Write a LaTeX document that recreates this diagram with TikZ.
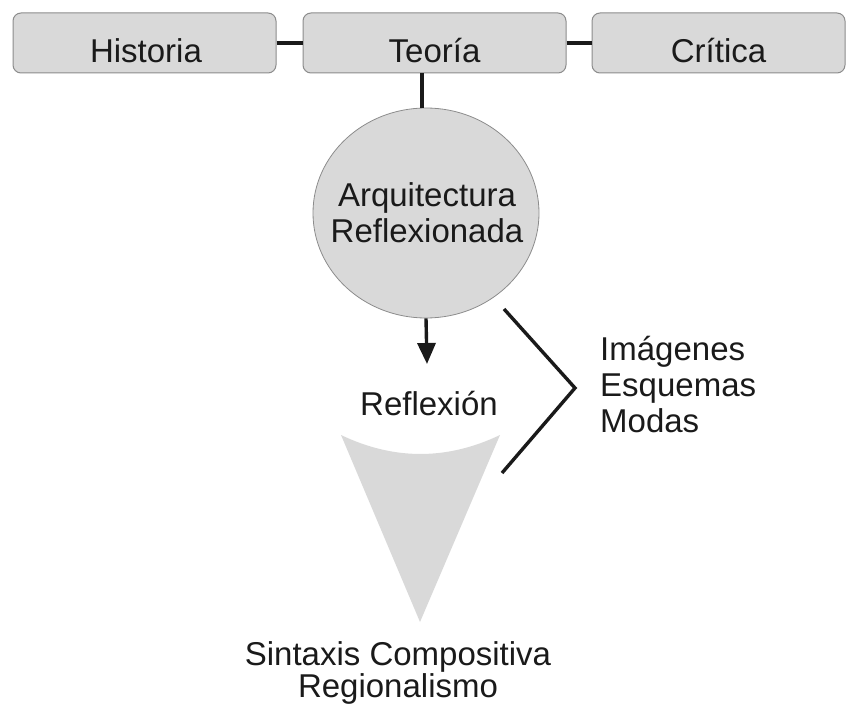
\documentclass[tikz,border=0pt]{standalone}
\usepackage{fontspec}
\setmainfont{Liberation Sans}
\usetikzlibrary{arrows.meta,shapes.geometric}
\definecolor{boxfill}{HTML}{D9D9D9}
\definecolor{boxline}{HTML}{8C8C8C}
\definecolor{ink}{HTML}{1A1A1A}
\begin{document}
\begin{tikzpicture}[x=1pt,y=-1pt,
  every node/.style={font=\fontsize{33}{36}\selectfont, text=ink, inner sep=0pt},
  topbox/.style={draw=boxline, line width=1pt, fill=boxfill, rounded corners=8pt,
    minimum height=60pt},
  lbl/.style={anchor=base},
  conn/.style={draw=ink, line width=3.4pt}]
\useasboundingbox (0,0) rectangle (848,711);
% top boxes
\node[topbox, minimum width=263pt] (hist) at (144.5,43) {};
\node[topbox, minimum width=263pt] (teor) at (434.5,43) {};
\node[topbox, minimum width=253pt] (crit) at (718.5,43) {};
\node[lbl] (thist) at (146,63) {Historia};
\node[lbl] (tteor) at (434.5,63) {Teoría};
\node[lbl] (tcrit) at (718.5,63) {Crítica};
\draw[conn] (hist.east) -- (teor.west);
\draw[conn] (teor.east) -- (crit.west);
% circle
\node[draw=boxline, line width=0.8pt, fill=boxfill, ellipse, minimum width=226pt, minimum height=210pt] (circ) at (426,213) {};
\node[lbl] (arq) at (427,207) {Arquitectura};
\node[lbl] (refl) at (427,243) {Reflexionada};
\coordinate (vtop) at (422,73);
\coordinate (vbot) at (422,108);
\draw[conn] (vtop) -- (vbot);
% arrow
\coordinate (abot) at (427,364);
\draw[conn, -{Triangle[length=21pt,width=18pt]}] (circ.south) -- (abot);
\node[lbl] (reflexion) at (429,415) {Reflexión};
% funnel
\fill[boxfill] (341,435) .. controls (394,460.3) and (447,460.3) .. (500,435) -- (420,622) -- cycle;
% bracket
\coordinate (b1) at (504,309);
\coordinate (b2) at (575,388);
\coordinate (b3) at (502,473);
\draw[conn, line join=miter] (b1) -- (b2) -- (b3);
\node[lbl, anchor=base west] (img) at (600,360) {Imágenes};
\node[lbl, anchor=base west] (esq) at (600,396) {Esquemas};
\node[lbl, anchor=base west] (mod) at (600,432) {Modas};
% bottom
\node[lbl] (sint) at (398,665) {Sintaxis Compositiva};
\node[lbl] (reg) at (398,697) {Regionalismo};
\end{tikzpicture}
\end{document}
